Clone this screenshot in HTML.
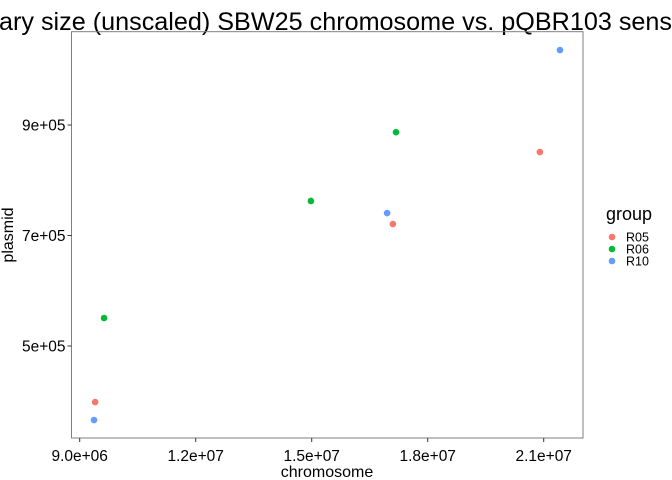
<!DOCTYPE html>
<html><head><meta charset="utf-8"><style>body{margin:0;background:#fff}svg{display:block;font-family:"Liberation Sans",sans-serif}</style></head>
<body>
<svg id="chart" width="672" height="480" xmlns="http://www.w3.org/2000/svg">
<text x="-1" y="30" font-size="25" text-anchor="end" fill="#000">Summ</text>
<text x="-1" y="30" font-size="25" fill="#000" textLength="673" lengthAdjust="spacingAndGlyphs">ary size (unscaled) SBW25 chromosome vs. pQBR103 sens</text>
<rect x="71.5" y="31.7" width="511.5" height="406.3" fill="none" stroke="#7f7f7f" stroke-width="1"/>
<g id="axes"></g>
<g id="points"></g>
<text x="327" y="477" font-size="16" text-anchor="middle">chromosome</text>
<text transform="translate(13,235) rotate(-90)" font-size="16" text-anchor="middle">plasmid</text>
<text x="606" y="220" font-size="18">group</text>
<g id="legend"></g>
</svg>
<script>
const groups = ["R05","R06","R10"];
const colors = ["#F8766D","#00BA38","#619CFF"];
const ptGroup = ["R10","R05","R06","R06","R10","R05","R06","R05","R10"];
const chromosome = [21420000,20900000,17180000,14980000,16950000,17100000,9630000,9400000,9370000];
const plasmid = [1035700,851000,887000,762500,740700,720800,550700,398600,366000];
const xTicks = [9000000,12000000,15000000,18000000,21000000];
const xTickLabels = ["9.0e+06","1.2e+07","1.5e+07","1.8e+07","2.1e+07"];
const yTicks = [500000,700000,900000];
const yTickLabels = ["5e+05","7e+05","9e+05"];
const NS="http://www.w3.org/2000/svg";
const xMin=8788000,xMax=22016000,yMin=333500,yMax=1068900;
const L=71.5,R=583,T=31.7,B=438;
const sx=v=>L+(v-xMin)/(xMax-xMin)*(R-L);
const sy=v=>B-(v-yMin)/(yMax-yMin)*(B-T);
function mk(tag,attrs,parent){const e=document.createElementNS(NS,tag);for(const k in attrs)e.setAttribute(k,attrs[k]);parent.appendChild(e);return e;}
const ax=document.getElementById('axes');
xTicks.forEach((v,i)=>{
  const t=mk('line',{x1:sx(v),x2:sx(v),y1:B,y2:B+4,stroke:'#333'},ax);
  
  
  const l=mk('text',{x:sx(v),y:B+23,'font-size':15.5,'text-anchor':'middle',fill:'#000'},ax);
  
  
  l.textContent=xTickLabels[i];
});
yTicks.forEach((v,i)=>{
  const t=mk('line',{x1:L-4,x2:L,y1:sy(v),y2:sy(v),stroke:'#333'},ax);
  
  
  const l=mk('text',{x:L-6,y:sy(v)+5.5,'font-size':15.5,'text-anchor':'end',fill:'#000'},ax);
  
  
  l.textContent=yTickLabels[i];
});
const pg=document.getElementById('points');
chromosome.forEach((c,i)=>{
  const p=mk('circle',{cx:sx(c),cy:sy(plasmid[i]),r:3.3,fill:colors[groups.indexOf(ptGroup[i])]},pg);
  
  
});
const lg=document.getElementById('legend');
groups.forEach((g,i)=>{
  const k=mk('circle',{cx:612,cy:237+i*12,r:3.3,fill:colors[i]},lg);
  
  
  const t=mk('text',{x:626,y:241.5+i*12,'font-size':12.5},lg);
  
  
  t.textContent=g;
});
</script>
</body></html>
